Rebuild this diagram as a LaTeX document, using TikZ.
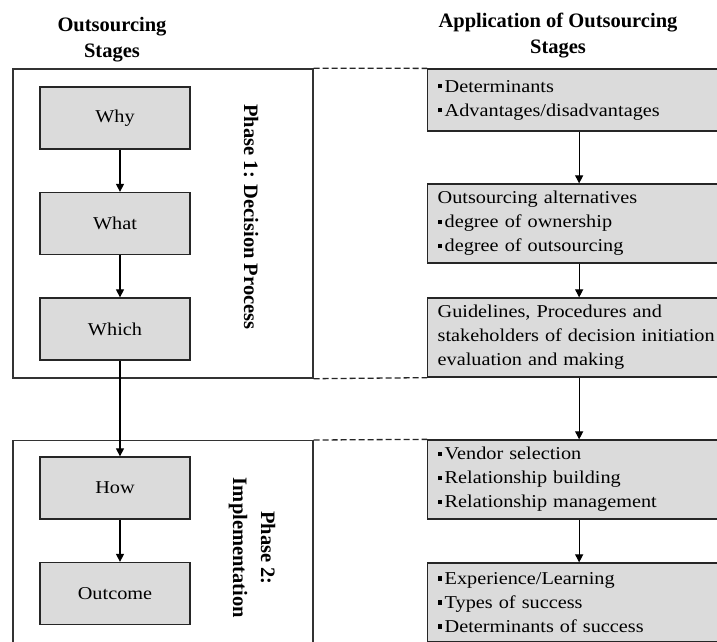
\documentclass[tikz,border=0pt]{standalone}
\usepackage{fontspec}
\setmainfont{Liberation Serif}
\newfontfamily\bodyfont[FakeStretch=1.12]{Liberation Serif}
\usetikzlibrary{arrows.meta,calc}
\newcommand{\bul}{\raisebox{0.2em}{\rule{0.24em}{0.24em}}\hspace{0.15em}}
\begin{document}
\begin{tikzpicture}[x=1pt,y=-1pt,
  frame/.style={draw=black!80, line width=1.4pt, minimum width=300pt, inner sep=0pt},
  lbox/.style={draw=black!85, line width=1.3pt, fill=black!14, minimum width=150pt, minimum height=62pt, inner sep=0pt, font=\bodyfont\fontsize{18.1}{24}\selectfont},
  rbox/.style={draw=black!85, line width=1.3pt, fill=black!14, text width=283pt, inner xsep=10pt, inner ysep=0pt, align=left, anchor=west, font=\bodyfont\fontsize{18.1}{24}\selectfont},
  arr/.style={draw=black, line width=1.2pt, -{Triangle[length=8pt,width=8pt]}},
  dashline/.style={draw=black!85, line width=1.3pt, dash pattern=on 6pt off 3pt},
  head/.style={font=\bfseries\fontsize{20.5}{26}\selectfont, align=center},
  phase/.style={font=\bfseries\fontsize{20.5}{28}\selectfont, align=center, rotate=-90}
]
\useasboundingbox (0,0) rectangle (717,641);
\clip (0,0) rectangle (717,641);
\fill[white] (0,0) rectangle (717,641);

\node[head] (h1) at (112,40) {Outsourcing\\Stages};
\node[head] (h2) at (558,36) {Application of Outsourcing\\Stages};

\node[frame, minimum height=309pt] (f1) at (163,223.5) {};
\node[frame, minimum height=215pt, anchor=north] (f2) at (163,440) {};

\node[lbox] (why) at (115,118) {Why};
\node[lbox] (what) at (115,223.5) {What};
\node[lbox] (which) at (115,329) {Which};
\node[lbox] (how) at (115,488) {How};
\node[lbox] (outcome) at (115,593.5) {Outcome};

\node[phase] (p1) at (251,217) {Phase 1: Decision Process};
\node[phase] (p2) at (252,548) {Phase 2:\\Implementation};

\node[rbox, minimum height=62pt] (r1) at (427,100) {\bul Determinants\\\bul Advantages/disadvantages};
\node[rbox, minimum height=79pt] (r2) at (427,223.5) {Outsourcing alternatives\\\bul degree of ownership\\\bul degree of outsourcing};
\node[rbox, minimum height=79pt] (r3) at (427,337.5) {Guidelines, Procedures and\\stakeholders of decision initiation\\evaluation and making};
\node[rbox, minimum height=79pt] (r4) at (427,479.5) {\bul Vendor selection\\\bul Relationship building\\\bul Relationship management};
\node[rbox, minimum height=79pt] (r5) at (427,602.5) {\bul Experience/Learning\\\bul Types of success\\\bul Determinants of success};

\draw[arr] ([xshift=5pt]why.south) -- ([xshift=5pt]what.north);
\draw[arr] ([xshift=5pt]what.south) -- ([xshift=5pt]which.north);
\draw[arr] ([xshift=5pt]which.south) -- ([xshift=5pt]how.north);
\draw[arr] ([xshift=5pt]how.south) -- ([xshift=5pt]outcome.north);

\draw[arr] (r1) -- (r2);
\draw[arr] (r2) -- (r3);
\draw[arr] (r3) -- (r4);
\draw[arr] (r4) -- (r5);

\draw[dashline] (f1.north east) -- (r1.north west);
\draw[dashline] (f1.south east) -- (r3.south west);
\draw[dashline] (f2.north east) -- (r4.north west);
\end{tikzpicture}
\end{document}
